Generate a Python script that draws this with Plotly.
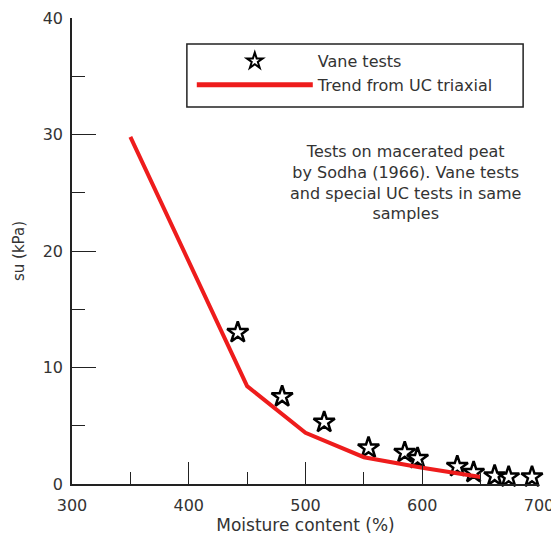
import plotly.graph_objects as go

# Vane tests (stars)
vane_moisture = [442, 480, 516, 554, 585, 596, 630, 644, 662, 674, 694]
vane_su = [13.0, 7.5, 5.3, 3.1, 2.7, 2.2, 1.5, 1.0, 0.7, 0.6, 0.6]

# Trend from UC triaxial (red line)
trend_moisture = [350, 450, 500, 550, 600, 650]
trend_su = [29.8, 8.4, 4.4, 2.3, 1.4, 0.6]

x_ticks = [300, 400, 500, 600, 700]
y_ticks = [0, 10, 20, 30, 40]

FONT = "DejaVu Sans, Verdana, sans-serif"
TXT = "#333333"
AX = "#222222"

fig = go.Figure()
fig.add_trace(go.Scatter(
    x=vane_moisture, y=vane_su, mode="markers", name="Vane tests",
    marker=dict(symbol="star-open", size=16, color="black",
                line=dict(color="black", width=2.5)),
    cliponaxis=False,
))
fig.add_trace(go.Scatter(
    x=trend_moisture, y=trend_su, mode="lines", name="Trend from UC triaxial",
    line=dict(color="#ee1c1c", width=4),
))

fig.add_annotation(
    x=0.715, y=0.646, xref="paper", yref="paper", xanchor="center", yanchor="middle",
    text="Tests on macerated peat<br>by Sodha (1966). Vane tests<br>and special UC tests in same<br>samples",
    showarrow=False, align="center", font=dict(family=FONT, size=16, color=TXT),
)

# legend frame
fig.add_shape(type="rect", xref="paper", yref="paper",
              x0=0.246, x1=0.966, y0=0.809, y1=0.944,
              line=dict(color=AX, width=1.5), fillcolor="rgba(0,0,0,0)", layer="above")

fig.update_layout(
    width=551, height=536,
    margin=dict(l=72, r=12, t=18, b=52),
    paper_bgcolor="white", plot_bgcolor="white",
    font=dict(family=FONT, size=16, color=TXT),
    showlegend=True,
    legend=dict(
        x=0.2565, y=0.944, xanchor="left", yanchor="top",
        bgcolor="rgba(0,0,0,0)", borderwidth=0,
        font=dict(family=FONT, size=16, color=TXT),
        itemsizing="constant", itemwidth=116,
        tracegroupgap=2,
    ),
    xaxis=dict(
        range=[300, 700], tickvals=x_ticks, showgrid=False, zeroline=False,
        showline=True, linecolor=AX, linewidth=1.5, automargin=False,
        ticks="inside", ticklen=22, tickwidth=1.3, tickcolor=AX,
        minor=dict(dtick=50, ticks="inside", ticklen=12, tickwidth=1.3, tickcolor=AX),
        tickfont=dict(family=FONT, size=16, color=TXT), ticklabelstandoff=6,
        ticklabeloverflow="allow",
        title=dict(text="Moisture content (%)", standoff=2,
                   font=dict(family=FONT, size=17, color=TXT)),
        fixedrange=True,
    ),
    yaxis=dict(
        range=[0, 40], tickvals=y_ticks, showgrid=False, zeroline=False,
        showline=True, linecolor=AX, linewidth=1.5, automargin=False,
        ticks="inside", ticklen=24, tickwidth=1.3, tickcolor=AX,
        minor=dict(dtick=5, ticks="inside", ticklen=13, tickwidth=1.3, tickcolor=AX),
        tickfont=dict(family=FONT, size=16, color=TXT), ticklabelstandoff=4,
        ticklabeloverflow="allow",
        title=dict(text="su (kPa)", standoff=14,
                   font=dict(family=FONT, size=15, color=TXT)),
        fixedrange=True,
    ),
)

fig.write_html("out.html")
